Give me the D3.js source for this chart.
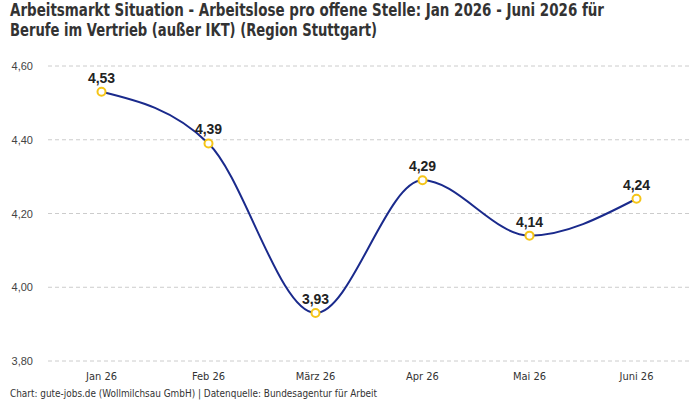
<!DOCTYPE html>
<html>
<head>
<meta charset="utf-8">
<script src="https://cdn.jsdelivr.net/npm/d3@7"></script>
<style>
body { margin:0; background:#fff; }
svg { display:block; }
</style>
</head>
<body>
<script>
var months = ["Jan 26", "Feb 26", "März 26", "Apr 26", "Mai 26", "Juni 26"];
var values = [4.53, 4.39, 3.93, 4.29, 4.14, 4.24];
var yTicks = [3.8, 4.0, 4.2, 4.4, 4.6];

var w = 700, h = 400;
var fmt = function(v){ return d3.format(".2f")(v).replace(".", ","); };
var condensed = "'DejaVu Sans Condensed', sans-serif";

var svg = d3.select("body").append("svg").attr("width", w).attr("height", h);

// title, squeezed to the width of the original condensed font
var title = svg.append("text")
	.attr("x", 10).attr("y", 16)
	.style("font-family", condensed)
	.style("font-weight", "bold").style("font-size", "17px").style("fill", "#333");
title.append("tspan").attr("x", 10).attr("dy", 0)
	.attr("textLength", 594).attr("lengthAdjust", "spacingAndGlyphs")
	.text("Arbeitsmarkt Situation - Arbeitslose pro offene Stelle: Jan 2026 - Juni 2026 für");
title.append("tspan").attr("x", 10).attr("dy", 20)
	.attr("textLength", 367).attr("lengthAdjust", "spacingAndGlyphs")
	.text("Berufe im Vertrieb (außer IKT) (Region Stuttgart)");

var x = d3.scalePoint().domain(months).range([48, 690]).padding(0.5);
var y = d3.scaleLinear().domain([3.8, 4.6]).range([361, 66]);

// grid + y labels
svg.selectAll(".grid").data(yTicks).enter().append("line")
	.attr("x1", 48).attr("x2", 690)
	.attr("y1", function(d){ return y(d); }).attr("y2", function(d){ return y(d); })
	.attr("stroke", "#ccc").attr("stroke-dasharray", "4,3");

svg.selectAll(".ylab").data(yTicks).enter().append("text")
	.attr("x", 33).attr("y", function(d){ return y(d) + 4; })
	.attr("text-anchor", "end")
	.style("font-family", "'Liberation Sans', Arial, sans-serif").style("font-size", "11px").style("fill", "#444")
	.text(fmt);

svg.selectAll(".xlab").data(months).enter().append("text")
	.attr("x", function(d){ return x(d); }).attr("y", 380)
	.attr("text-anchor", "middle")
	.style("font-family", condensed).style("font-size", "11px").style("fill", "#333")
	.text(function(d){ return d; });

var line = d3.line()
	.x(function(d, i){ return x(months[i]); })
	.y(function(d){ return y(d); })
	.curve(d3.curveMonotoneX);

svg.append("path").datum(values)
	.attr("d", line).attr("fill", "none")
	.attr("stroke", "#1a2a8c").attr("stroke-width", 2);

svg.selectAll(".pt").data(values).enter().append("circle")
	.attr("cx", function(d, i){ return x(months[i]); })
	.attr("cy", function(d){ return y(d); })
	.attr("r", 4).attr("fill", "#fff")
	.attr("stroke", "#f5c518").attr("stroke-width", 2);

svg.selectAll(".vlab").data(values).enter().append("text")
	.attr("x", function(d, i){ return x(months[i]); })
	.attr("y", function(d){ return y(d) - 9; })
	.attr("text-anchor", "middle")
	.style("font-family", "'Liberation Sans', Arial, sans-serif").style("font-size", "14px")
	.style("font-weight", "bold").style("fill", "#222")
	.text(fmt);

svg.append("text")
	.attr("x", 10).attr("y", 397)
	.attr("textLength", 367).attr("lengthAdjust", "spacingAndGlyphs")
	.style("font-family", condensed).style("font-size", "10px").style("fill", "#333")
	.text("Chart: gute-jobs.de (Wollmilchsau GmbH) | Datenquelle: Bundesagentur für Arbeit");
</script>
</body>
</html>
